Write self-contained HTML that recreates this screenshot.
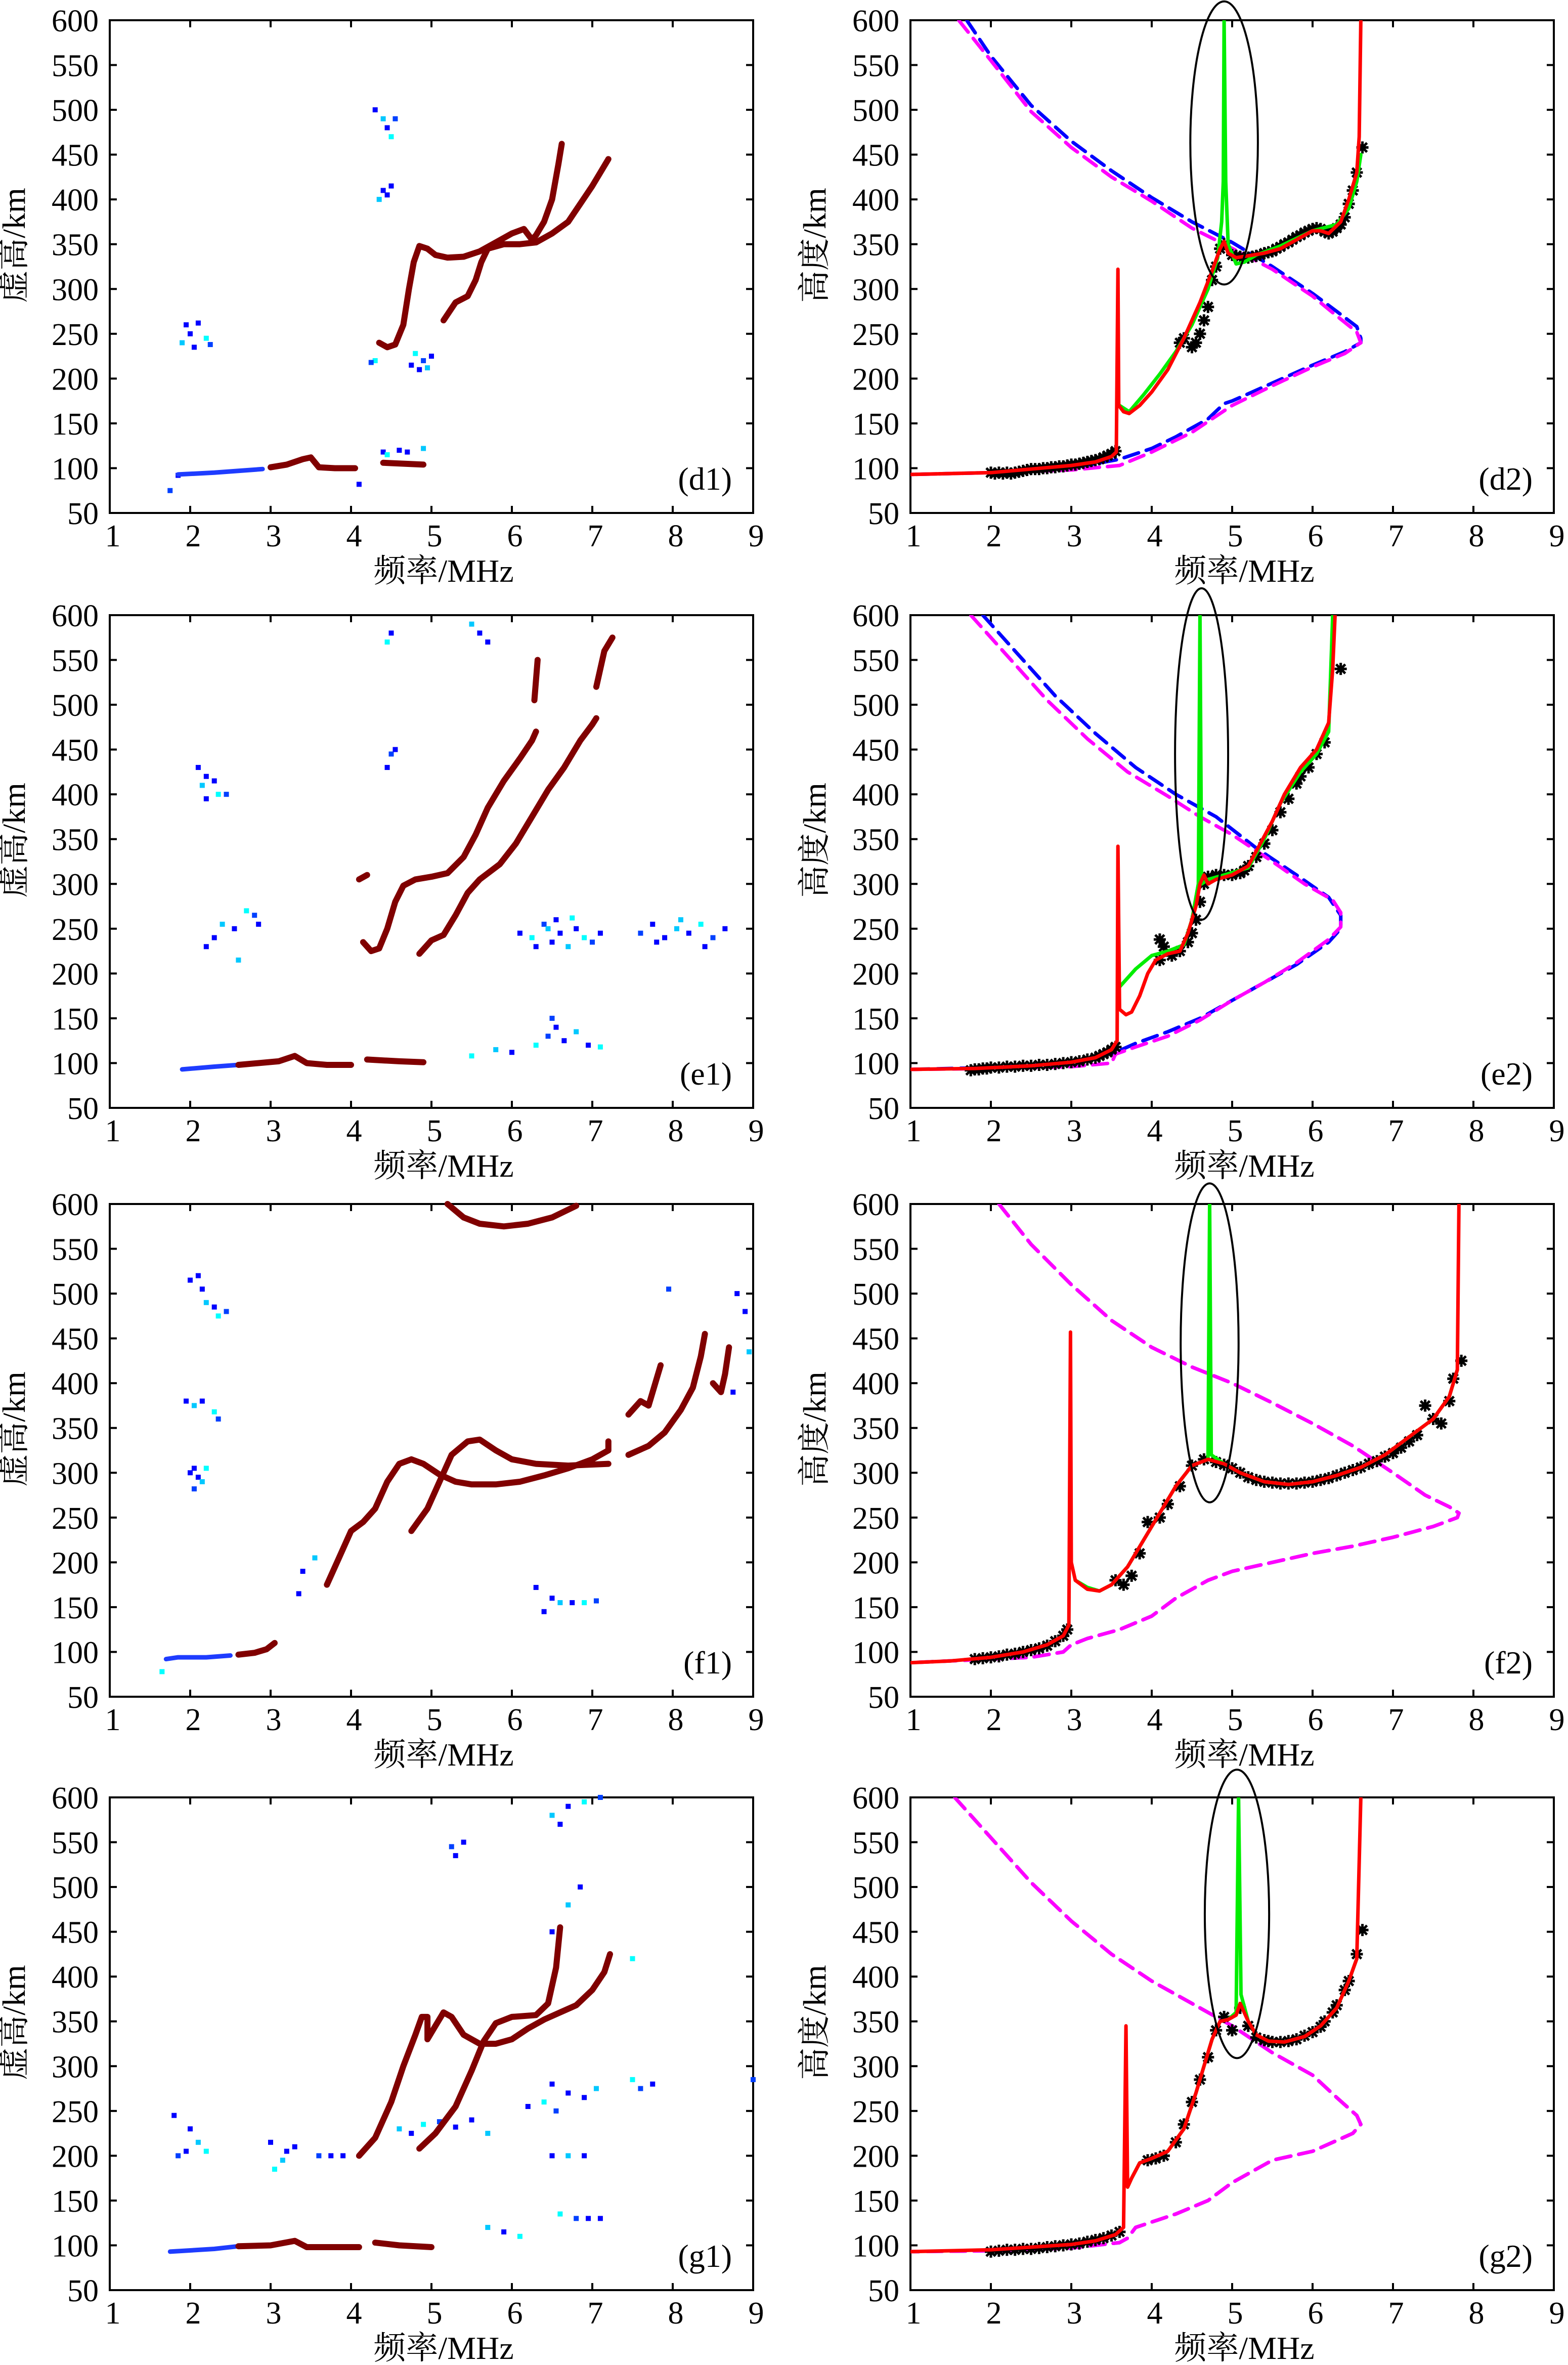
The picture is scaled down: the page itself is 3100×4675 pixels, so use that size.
<!DOCTYPE html>
<html><head><meta charset="utf-8">
<style>
html,body{margin:0;padding:0;background:#fff;}
svg{display:block;}
text{font-family:"Liberation Serif","Noto Serif CJK SC","Noto Sans CJK SC",serif;fill:#000;}
</style></head>
<body>
<svg id="fig" xmlns="http://www.w3.org/2000/svg" width="3100" height="4675" viewBox="0 0 3100 4675">
<rect width="3100" height="4675" fill="#fff"/>
</svg>
<script>
// ---------- layout ----------
const LEFT_X = 217, RIGHT_X = 1800, PW = 1272, PH = 974;
const ROW_T = [40, 1216, 2380, 3553];
const xTicks = [1,2,3,4,5,6,7,8,9];
const yTicks = [50,100,150,200,250,300,350,400,450,500,550,600];

// ---------- left panels (observed ionograms) ----------
const d1_o = [[4.35,240],[4.45,235],[4.55,238],[4.65,260],[4.72,300],[4.78,330],[4.85,348],[4.95,345],[5.05,338],[5.2,335],[5.4,336],[5.6,342],[5.8,352],[6.0,362],[6.15,367],[6.25,355],[6.3,360],[6.4,375],[6.5,400],[6.58,440],[6.62,462]];
const d1_x = [[5.15,265],[5.3,285],[5.45,292],[5.55,310],[5.62,330],[5.7,345],[5.9,350],[6.1,350],[6.3,352],[6.5,362],[6.7,375],[6.85,395],[7.0,415],[7.1,430],[7.2,445]];
const d1_e = [[3.0,101],[3.2,104],[3.4,110],[3.5,112],[3.6,101],[3.8,100],[4.05,100]];
const d1_e2 = [[4.4,106],[4.9,104]];
const d1_eb = [[1.85,93],[2.3,95],[2.6,97],[2.9,99]];
const d1_noise = [[1.95,260],[2.0,250],[1.9,240],[2.05,235],[2.2,245],[2.25,238],[2.1,262],[4.3,500],[4.4,490],[4.45,480],[4.5,470],[4.55,490],[4.4,410],[4.45,405],[4.35,400],[4.5,415],[4.3,220],[4.25,218],[4.75,215],[4.85,210],[4.95,212],[5.0,225],[4.8,228],[4.9,220],[4.6,120],[4.7,118],[4.9,122],[4.4,118],[4.45,115],[1.75,75],[1.85,92],[4.1,82]];

const e1_o = [[4.15,235],[4.25,225],[4.35,228],[4.45,250],[4.55,280],[4.65,298],[4.8,305],[5.0,308],[5.2,312],[5.4,330],[5.55,355],[5.7,385],[5.9,415],[6.1,440],[6.25,460],[6.3,470]];
const e1_o2 = [[6.28,505],[6.32,550]];
const e1_x = [[4.85,222],[5.0,237],[5.15,243],[5.3,265],[5.45,290],[5.6,305],[5.85,322],[6.05,345],[6.25,375],[6.45,405],[6.65,430],[6.85,460],[7.0,478],[7.05,485]];
const e1_x2 = [[7.05,520],[7.15,560],[7.25,575]];
const e1_f = [[4.1,305],[4.2,310]];
const e1_e = [[2.6,98],[3.1,102],[3.3,108],[3.45,100],[3.7,98],[4.0,98]];
const e1_e2 = [[4.2,104],[4.6,102],[4.9,101]];
const e1_eb = [[1.9,93],[2.3,96],[2.6,98]];
const e1_noise = [[2.1,430],[2.2,420],[2.15,410],[2.3,415],[2.35,400],[2.45,400],[2.2,395],[2.3,240],[2.4,255],[2.55,250],[2.7,270],[2.8,265],[2.85,255],[2.2,230],[2.6,215],[6.1,245],[6.25,240],[6.4,255],[6.5,235],[6.6,245],[6.7,230],[6.8,250],[6.9,240],[7.0,235],[7.1,245],[6.3,230],[6.45,250],[6.55,260],[6.75,262],[7.6,245],[7.75,255],[7.9,240],[8.05,250],[8.2,245],[8.35,255],[8.5,240],[8.65,250],[7.8,235],[8.1,260],[8.4,230],[6.3,120],[6.45,130],[6.55,140],[6.65,125],[6.8,135],[6.95,120],[7.1,118],[6.5,150],[5.6,580],[5.7,570],[5.5,590],[4.5,580],[4.45,570],[4.5,445],[4.45,430],[4.55,450],[5.8,115],[6.0,112],[5.5,108]];

const f1_o1 = [[3.7,175],[3.85,205],[4.0,235],[4.15,245],[4.3,260],[4.45,290],[4.6,310],[4.75,315],[4.9,310],[5.1,298],[5.3,290],[5.5,287],[5.8,287],[6.1,290],[6.4,297],[6.7,305],[7.0,315],[7.2,325],[7.2,335]];
const f1_o2 = [[4.75,235],[4.95,260],[5.1,290],[5.25,320],[5.45,335],[5.6,337],[5.8,325],[6.0,315],[6.3,310],[6.7,308],[7.2,310]];
const f1_x = [[7.45,320],[7.7,330],[7.9,345],[8.1,370],[8.25,395],[8.35,430],[8.4,455]];
const f1_x2 = [[7.45,365],[7.6,380],[7.7,375],[7.85,420]];
const f1_x3 = [[8.5,400],[8.6,390],[8.65,410],[8.7,440]];
const f1_top = [[5.2,600],[5.4,585],[5.6,578],[5.9,575],[6.2,578],[6.5,585],[6.8,598]];
const f1_e = [[2.6,97],[2.8,99],[2.95,103],[3.05,110]];
const f1_eb = [[1.7,92],[1.85,94],[2.2,94],[2.5,96]];
const f1_noise = [[2.1,520],[2.15,505],[2.2,490],[2.3,485],[2.35,475],[2.45,480],[2.0,515],[1.95,380],[2.05,375],[2.15,380],[2.3,368],[2.35,360],[2.05,305],[2.1,295],[2.15,290],[2.0,300],[2.2,305],[2.05,282],[6.3,172],[6.5,160],[6.6,155],[6.75,155],[6.9,155],[7.05,157],[6.4,145],[3.4,190],[3.55,205],[3.35,165],[1.65,78],[7.95,505],[8.8,500],[8.9,480],[8.95,435],[8.75,390]];

const g1_o = [[4.1,200],[4.3,220],[4.5,260],[4.65,300],[4.8,335],[4.88,355],[4.95,355],[4.95,330],[5.05,345],[5.15,360],[5.25,355],[5.4,335],[5.6,325],[5.8,325],[6.0,330],[6.2,342],[6.4,352],[6.6,360],[6.8,368],[7.0,385],[7.15,405],[7.22,425]];
const g1_x = [[4.85,208],[5.05,225],[5.3,255],[5.5,295],[5.65,328],[5.8,348],[6.0,355],[6.3,357],[6.45,370],[6.55,410],[6.6,455]];
const g1_e = [[2.6,99],[3.0,100],[3.3,105],[3.45,98],[3.8,98],[4.1,98]];
const g1_e2 = [[4.3,103],[4.6,100],[5.0,98]];
const g1_eb = [[1.75,93],[2.3,96],[2.6,99]];
const g1_noise = [[1.8,245],[2.0,230],[2.1,215],[1.95,205],[2.2,205],[1.85,200],[3.0,215],[3.2,205],[3.15,195],[3.3,210],[3.05,185],[3.6,200],[3.75,200],[3.9,200],[4.6,230],[4.75,225],[4.9,235],[5.1,238],[5.3,232],[5.5,240],[5.7,225],[6.2,255],[6.4,260],[6.55,250],[6.7,270],[6.9,265],[7.05,275],[6.5,280],[7.5,285],[7.6,275],[7.75,280],[6.5,200],[6.7,200],[6.9,200],[6.6,135],[6.8,130],[6.95,130],[7.1,130],[5.7,120],[5.9,115],[6.1,110],[5.25,545],[5.3,535],[5.4,550],[6.5,580],[6.7,590],[6.9,595],[7.1,600],[6.6,570],[6.85,500],[6.7,480],[6.5,450],[7.5,420],[9.0,285]];

// ---------- right panels (modelled traces) ----------
const d2_red = [[1,93],[2,95],[2.5,99],[3.0,103],[3.3,107],[3.5,113],[3.56,118],[3.58,322],[3.59,170],[3.65,163],[3.72,161],[3.85,170],[4.0,185],[4.2,210],[4.4,245],[4.6,285],[4.75,320],[4.85,345],[4.9,353],[4.95,340],[5.05,335],[5.2,337],[5.4,340],[5.6,345],[5.8,355],[6.0,365],[6.1,365],[6.2,362],[6.35,375],[6.45,400],[6.55,430],[6.58,470],[6.6,600]];
const d2_green = [[3.6,170],[3.72,163],[3.9,182],[4.1,205],[4.3,230],[4.5,260],[4.7,300],[4.82,335],[4.87,375],[4.89,420],[4.9,600],[4.92,420],[4.95,350],[5.05,328],[5.15,330],[5.3,338],[5.6,348],[6.0,365],[6.3,372],[6.45,390],[6.55,420],[6.6,450]];
const d2_blue = [[1.7,600],[2.0,560],[2.5,505],[3.0,465],[3.5,432],[4.0,402],[4.5,375],[5.0,352],[5.5,325],[6.0,295],[6.3,275],[6.55,258],[6.6,245],[6.6,240],[6.4,230],[6.0,215],[5.5,195],[5.0,175],[4.9,172],[4.7,155],[4.3,135],[4.0,122],[3.6,110],[3.0,100],[2.0,95],[1,93]];
const d2_mag = [[1.6,600],[2.0,555],[2.5,498],[3.0,458],[3.5,425],[4.0,398],[4.5,368],[4.9,350],[5.5,322],[6.0,292],[6.3,270],[6.55,252],[6.6,240],[6.4,228],[6.0,213],[5.5,192],[5.0,170],[4.8,158],[4.5,140],[4.0,118],[3.6,103],[3.0,98],[2.0,95],[1,93]];
const d2_obs = [[2.0,95],[2.05,94],[2.1,95],[2.15,94],[2.2,95],[2.25,94],[2.3,95],[2.35,96],[2.4,97],[2.45,98],[2.5,99],[2.55,99],[2.6,99],[2.65,100],[2.7,100],[2.75,101],[2.8,101],[2.85,102],[2.9,102],[2.95,103],[3.0,104],[3.05,104],[3.1,105],[3.15,106],[3.2,107],[3.25,108],[3.3,109],[3.35,110],[3.4,112],[3.45,114],[3.5,116],[3.55,119],[4.35,240],[4.4,245],[4.5,235],[4.55,240],[4.6,250],[4.65,265],[4.7,280],[4.75,310],[4.8,325],[4.85,345],[4.9,350],[5.0,338],[5.05,337],[5.1,336],[5.15,335],[5.2,335],[5.25,336],[5.3,337],[5.35,338],[5.4,340],[5.45,341],[5.5,342],[5.55,345],[5.6,347],[5.65,350],[5.7,352],[5.75,355],[5.8,358],[5.85,360],[5.9,363],[5.95,365],[6.0,367],[6.05,368],[6.1,367],[6.15,364],[6.2,362],[6.25,364],[6.3,368],[6.35,372],[6.4,380],[6.45,395],[6.5,410],[6.55,430],[6.62,458]];
const d2_ell = [4.9, 463, 0.42, 158];

const e2_red = [[1,93],[1.8,94],[2.5,97],[3.0,101],[3.3,106],[3.5,115],[3.57,125],[3.58,342],[3.6,160],[3.68,154],[3.75,157],[3.85,175],[3.95,200],[4.05,215],[4.2,222],[4.35,225],[4.45,245],[4.55,275],[4.6,300],[4.65,310],[4.7,300],[4.8,305],[5.0,310],[5.2,320],[5.35,345],[5.5,370],[5.65,400],[5.85,430],[6.05,450],[6.2,480],[6.25,540],[6.28,600]];
const e2_green = [[3.6,185],[3.8,205],[4.0,220],[4.2,225],[4.4,232],[4.5,260],[4.55,285],[4.58,300],[4.6,600],[4.62,300],[4.7,305],[4.9,310],[5.2,318],[5.4,350],[5.6,390],[5.85,425],[6.05,445],[6.2,470],[6.25,600]];
const e2_blue = [[1.9,600],[2.3,560],[2.8,510],[3.3,468],[3.8,430],[4.3,400],[4.8,375],[5.3,340],[5.8,310],[6.2,285],[6.35,265],[6.35,250],[6.2,235],[5.8,210],[5.4,190],[5.0,170],[4.6,150],[4.2,135],[3.8,122],[3.55,112],[3.0,100],[2.0,95],[1,93]];
const e2_mag = [[1.75,600],[2.2,555],[2.7,505],[3.2,462],[3.7,425],[4.2,398],[4.6,375],[5.0,355],[5.5,325],[5.9,300],[6.25,282],[6.35,268],[6.35,252],[6.2,238],[5.8,212],[5.4,190],[5.0,170],[4.6,148],[4.2,130],[3.8,118],[3.55,110],[3.5,100],[3.0,96],[2.0,94],[1,93]];
const e2_obs = [[1.75,92],[1.8,93],[1.85,93],[1.9,94],[1.95,94],[2.0,95],[2.1,95],[2.2,96],[2.3,96],[2.4,97],[2.5,97],[2.6,98],[2.7,98],[2.8,99],[2.9,100],[3.0,101],[3.1,102],[3.2,104],[3.3,106],[3.35,108],[3.4,110],[3.45,112],[3.5,115],[3.55,118],[4.1,238],[4.15,230],[4.1,215],[4.25,220],[4.35,225],[4.45,235],[4.5,245],[4.55,260],[4.6,280],[4.65,300],[4.7,308],[4.8,310],[4.9,310],[5.0,310],[5.1,312],[5.15,315],[5.2,320],[5.3,330],[5.4,345],[5.5,360],[5.6,380],[5.7,395],[5.8,412],[5.85,420],[5.95,430],[6.05,445],[6.15,458],[6.35,540]];
const e2_ell = [4.62, 445, 0.33, 185];

const f2_red = [[1,88],[1.5,90],[2.0,94],[2.4,100],[2.7,108],[2.9,118],[2.97,130],[2.99,457],[3.0,200],[3.05,180],[3.2,170],[3.35,168],[3.5,175],[3.7,195],[3.9,225],[4.1,255],[4.3,285],[4.5,308],[4.7,315],[4.9,310],[5.1,300],[5.4,290],[5.7,287],[6.0,290],[6.3,297],[6.6,306],[6.9,320],[7.2,340],[7.5,360],[7.7,385],[7.8,415],[7.82,600]];
const f2_green = [[3.05,180],[3.2,172],[3.35,168],[3.5,175],[3.7,195],[3.9,225],[4.1,255],[4.3,285],[4.5,308],[4.7,315],[4.72,600],[4.74,320],[4.9,310],[5.1,300],[5.4,290],[5.7,287],[6.0,290],[6.3,297],[6.6,306],[6.9,320],[7.2,340],[7.5,360],[7.7,385],[7.8,415]];
const f2_blue = [[2.1,600],[2.5,555],[3.0,510],[3.5,470],[4.0,440],[4.5,418],[5.0,400],[5.5,378],[6.0,355],[6.5,330],[7.0,300],[7.4,275],[7.7,262],[7.82,255],[7.8,250],[7.5,240],[7.0,228],[6.5,218],[6.0,210],[5.5,200],[5.0,190],[4.7,180],[4.3,160],[4.0,140],[3.6,125],[3.2,115],[3.0,108],[2.9,100],[2.5,94],[2.0,92],[1,88]];
const f2_mag = f2_blue;
const f2_obs = [[1.8,92],[1.9,93],[2.0,94],[2.1,95],[2.2,97],[2.3,98],[2.4,100],[2.5,102],[2.6,104],[2.7,107],[2.8,112],[2.9,118],[2.95,125],[3.55,180],[3.65,175],[3.75,185],[3.85,210],[3.95,245],[4.1,250],[4.2,265],[4.35,285],[4.5,308],[4.65,315],[4.8,312],[4.9,309],[5.0,305],[5.1,300],[5.2,295],[5.3,292],[5.4,290],[5.5,289],[5.6,288],[5.7,288],[5.8,288],[5.9,289],[6.0,290],[6.1,292],[6.2,294],[6.3,297],[6.4,300],[6.5,303],[6.6,306],[6.7,310],[6.8,313],[6.9,318],[7.0,322],[7.1,328],[7.2,335],[7.3,342],[7.4,375],[7.5,360],[7.6,355],[7.7,380],[7.75,405],[7.85,425]];
const f2_ell = [4.72, 445, 0.36, 178];

const g2_red = [[1,93],[2.0,95],[2.5,98],[3.0,101],[3.3,105],[3.55,112],[3.65,120],[3.68,345],[3.7,165],[3.75,175],[3.85,192],[4.0,197],[4.2,205],[4.4,230],[4.55,270],[4.65,300],[4.75,330],[4.85,350],[4.95,352],[5.05,357],[5.1,370],[5.2,350],[5.3,335],[5.45,328],[5.65,327],[5.9,333],[6.1,345],[6.3,365],[6.45,395],[6.55,420],[6.6,600]];
const g2_green = [[3.7,165],[3.75,175],[3.85,192],[4.0,197],[4.2,205],[4.4,230],[4.55,270],[4.65,300],[4.75,330],[4.85,350],[4.95,352],[5.05,360],[5.08,600],[5.11,380],[5.2,350],[5.3,335],[5.45,328],[5.65,327],[5.9,333],[6.1,345],[6.3,365],[6.45,395],[6.55,420]];
const g2_blue = [[1.55,600],[2.0,555],[2.5,505],[3.0,462],[3.5,425],[4.0,395],[4.5,370],[5.0,345],[5.5,315],[6.0,290],[6.3,265],[6.55,245],[6.6,235],[6.5,225],[6.0,205],[5.5,195],[5.0,170],[4.7,150],[4.3,135],[3.8,120],[3.7,108],[3.6,103],[3.0,97],[2.0,94],[1,93]];
const g2_mag = g2_blue;
const g2_obs = [[2.0,93],[2.1,94],[2.2,95],[2.3,95],[2.4,96],[2.5,96],[2.6,97],[2.7,98],[2.8,99],[2.9,100],[3.0,101],[3.1,102],[3.2,104],[3.3,106],[3.4,108],[3.5,111],[3.6,115],[3.95,195],[4.05,197],[4.15,200],[4.3,215],[4.4,235],[4.5,260],[4.6,285],[4.7,310],[4.8,340],[4.9,355],[5.0,340],[5.1,365],[5.2,345],[5.3,332],[5.4,329],[5.45,328],[5.5,327],[5.6,327],[5.7,328],[5.8,330],[5.9,334],[6.0,338],[6.1,344],[6.15,350],[6.25,360],[6.3,368],[6.4,385],[6.45,395],[6.55,425],[6.62,452]];
const g2_ell = [5.06, 470, 0.40, 161];

// ---------- drawing ----------
const NS = 'http://www.w3.org/2000/svg';
const fig = document.getElementById('fig');
function mk(tag, attrs, parent) {
  const e = document.createElementNS(NS, tag);
  for (const k in attrs) e.setAttribute(k, attrs[k]);
  (parent || fig).appendChild(e);
  return e;
}
function axes(L, T) {
  return {
    x: f => L + (f - 1) / 8 * PW,
    y: h => T + (600 - h) / 550 * PH
  };
}
function pts(a, s) { return a.map(p => s.x(p[0]).toFixed(1) + ',' + s.y(p[1]).toFixed(1)).join(' '); }

function frame(L, T, ytitle, label, id) {
  const g = mk('g', {});
  
  
  const s = axes(L, T);
  const box = mk('rect', {x: L, y: T, width: PW, height: PH, fill: 'none', stroke: '#000', 'stroke-width': 4}, g);
  
  
  xTicks.forEach(v => {
    const x = s.x(v);
    mk('line', {x1: x, y1: T + PH, x2: x, y2: T + PH - 14, stroke: '#000', 'stroke-width': 4}, g);
    mk('line', {x1: x, y1: T, x2: x, y2: T + 14, stroke: '#000', 'stroke-width': 4}, g);
    const t = mk('text', {x: x + 6, y: T + PH + 66, 'font-size': 62, 'text-anchor': 'middle'}, g);
    t.textContent = v;
    
    
  });
  yTicks.forEach(v => {
    const y = s.y(v);
    mk('line', {x1: L, y1: y, x2: L + 14, y2: y, stroke: '#000', 'stroke-width': 4}, g);
    mk('line', {x1: L + PW, y1: y, x2: L + PW - 14, y2: y, stroke: '#000', 'stroke-width': 4}, g);
    const t = mk('text', {x: L - 22, y: y + 22, 'font-size': 62, 'text-anchor': 'end'}, g);
    t.textContent = v;
    
    
  });
  const xt = mk('text', {x: L + 660, y: T + PH + 136, 'font-size': 64, 'text-anchor': 'middle'}, g);
  xt.textContent = '频率/MHz';
  
  
  const cx = L - 168, cy = T + 445;
  const yt = mk('text', {x: cx, y: cy, 'font-size': 64, 'text-anchor': 'middle', transform: 'rotate(-90 ' + cx + ' ' + cy + ')'}, g);
  yt.textContent = ytitle;
  
  
  const lb = mk('text', {x: L + PW - 42, y: T + PH - 46, 'font-size': 64, 'text-anchor': 'end'}, g);
  lb.textContent = '(' + label + ')';
  
  
  return {g, s};
}

function trace(g, s, data, color, w, name) {
  const p = mk('polyline', {points: pts(data, s), fill: 'none', stroke: color, 'stroke-width': w, 'stroke-linejoin': 'round', 'stroke-linecap': 'round'}, g);
  
  
  return p;
}
function noise(g, s, data, name) {
  const cols = ['#0000ff', '#0000ff', '#00c8ff', '#0000ff', '#00ffff', '#0040ff'];
  data.forEach((p, i) => {
    const r = mk('rect', {x: s.x(p[0]) - 5, y: s.y(p[1]) - 5, width: 10, height: 10, fill: cols[i % cols.length]}, g);
    
    
  });
}
function leftPanel(T, label, main, blues, nz) {
  const {g, s} = frame(LEFT_X, T, '虚高/km', label, label);
  noise(g, s, nz, 'noise-echo');
  blues.forEach(b => trace(g, s, b, '#1e3cff', 9, 'e-layer-weak-trace'));
  main.forEach(m => trace(g, s, m, '#800000', 12, 'echo-trace'));
}
function star(g, s, p) {
  const x = s.x(p[0]), y = s.y(p[1]), r = 12;
  const d = `M${x - r},${y}H${x + r}M${x},${y - r}V${y + r}M${x - 9},${y - 9}L${x + 9},${y + 9}M${x - 9},${y + 9}L${x + 9},${y - 9}`;
  const e = mk('path', {d, stroke: '#000', 'stroke-width': 5, fill: 'none'}, g);
  
  
}
function rightPanel(T, label, red, green, blue, mag, obs, ell) {
  const {g, s} = frame(RIGHT_X, T, '高度/km', label, label);
  const clip = mk('clipPath', {id: 'c' + label}, g);
  mk('rect', {x: RIGHT_X, y: T, width: PW, height: PH}, clip);
  const inner = mk('g', {'clip-path': 'url(#c' + label + ')'}, g);
  const b = trace(inner, s, blue, '#0000ff', 7, 'model-o-dashed');
  b.setAttribute('stroke-dasharray', '30 16');
  const m = trace(inner, s, mag, '#ff00ff', 7, 'model-x-dashed');
  m.setAttribute('stroke-dasharray', '30 16');
  obs.forEach(p => star(inner, s, p));
  trace(inner, s, green, '#00ee00', 7, 'green-trace');
  trace(inner, s, red, '#ff0000', 7, 'red-trace');
  const cx = s.x(ell[0]), cy = s.y(ell[1]);
  const rx = ell[2] / 8 * PW, ry = ell[3] / 550 * PH;
  const e = mk('ellipse', {cx, cy, rx, ry, fill: 'none', stroke: '#000', 'stroke-width': 4}, g);
  
  
}

leftPanel(ROW_T[0], 'd1', [d1_o, d1_x, d1_e, d1_e2], [d1_eb], d1_noise);
leftPanel(ROW_T[1], 'e1', [e1_o, e1_o2, e1_x, e1_x2, e1_f, e1_e, e1_e2], [e1_eb], e1_noise);
leftPanel(ROW_T[2], 'f1', [f1_o1, f1_o2, f1_x, f1_x2, f1_x3, f1_top, f1_e], [f1_eb], f1_noise);
leftPanel(ROW_T[3], 'g1', [g1_o, g1_x, g1_e, g1_e2], [g1_eb], g1_noise);

rightPanel(ROW_T[0], 'd2', d2_red, d2_green, d2_blue, d2_mag, d2_obs, d2_ell);
rightPanel(ROW_T[1], 'e2', e2_red, e2_green, e2_blue, e2_mag, e2_obs, e2_ell);
rightPanel(ROW_T[2], 'f2', f2_red, f2_green, f2_blue, f2_mag, f2_obs, f2_ell);
rightPanel(ROW_T[3], 'g2', g2_red, g2_green, g2_blue, g2_mag, g2_obs, g2_ell);
</script>
</body></html>
